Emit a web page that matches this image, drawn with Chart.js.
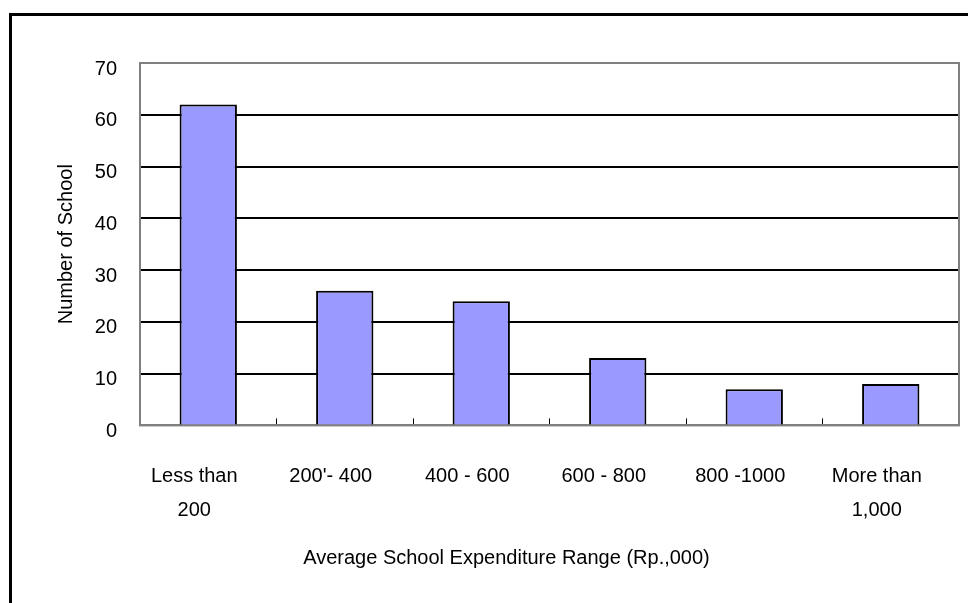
<!DOCTYPE html>
<html>
<head>
<meta charset="utf-8">
<script src="https://cdn.jsdelivr.net/npm/chart.js@4.4.1/dist/chart.umd.min.js"></script>
<style>
  html, body { margin: 0; padding: 0; background: #fff; overflow: hidden; width: 968px; height: 603px; }
  #frame { position: absolute; left: 9px; top: 13px; border-left: 3px solid #000; border-top: 3px solid #000; }
  #box { position: relative; width: 982px; height: 600px; }
</style>
</head>
<body>
<div id="frame"><div id="box"><canvas id="bar-chart"></canvas></div></div>
<script>
const categories = [["Less than", "200"], "200'- 400", "400 - 600", "600 - 800", "800 -1000", ["More than", "1,000"]];
const schools = [62, 26, 24, 13, 7, 8];
const yTicks = [0, 10, 20, 30, 40, 50, 60, 70];

const font = { family: "Arial, 'Liberation Sans', sans-serif", size: 20 };

// grey frame round the plot area
const plotFrame = {
  id: 'plotFrame',
  beforeDatasetsDraw(chart) {
    const a = chart.chartArea, ctx = chart.ctx;
    ctx.save();
    ctx.strokeStyle = '#808080';
    ctx.lineWidth = 2;
    ctx.strokeRect(a.left, a.top, a.right - a.left, a.bottom - a.top);
    ctx.restore();
  }
};

new Chart(document.getElementById("bar-chart"), {
  type: 'bar',
  data: {
    labels: categories,
    datasets: [{
      label: "Number of School",
      data: schools,
      backgroundColor: "#9999ff",
      borderColor: "#000000",
      borderWidth: 2,
      barPercentage: 0.42,
      categoryPercentage: 1
    }]
  },
  plugins: [plotFrame],
  options: {
    responsive: true,
    maintainAspectRatio: false,
    animation: false,
    layout: { padding: { left: 42, top: 47, right: 35, bottom: 0 } },
    plugins: {
      legend: { display: false },
      tooltip: { enabled: false },
      title: {
        display: true,
        position: 'bottom',
        text: 'Average School Expenditure Range (Rp.,000)',
        color: '#000',
        font: { family: font.family, size: 20, weight: 'normal' },
        padding: { top: 11, bottom: 45.6 }
      }
    },
    scales: {
      x: {
        afterFit: s => { s.height = 110; },
        border: { display: true, color: '#808080', width: 2 },
        grid: { drawOnChartArea: false, drawTicks: true, tickLength: -7, color: '#000', lineWidth: 1 },
        ticks: { color: '#000', font: { ...font, lineHeight: 1.7 }, padding: 41, labelOffset: -14, maxRotation: 0, autoSkip: false }
      },
      y: {
        min: 0,
        max: 70,
        afterFit: s => { s.width = 86; },
        afterBuildTicks: s => { s.ticks = yTicks.map(v => ({ value: v })); },
        border: { display: true, color: '#808080', width: 2 },
        grid: { color: '#000', lineWidth: 2, drawTicks: false },
        ticks: { color: '#000', font: font, padding: 23, labelOffset: 6 },
        title: {
          display: true,
          text: 'Number of School',
          color: '#000',
          font: { family: font.family, size: 20 },
          padding: 0
        }
      }
    }
  }
});
</script>
</body>
</html>
